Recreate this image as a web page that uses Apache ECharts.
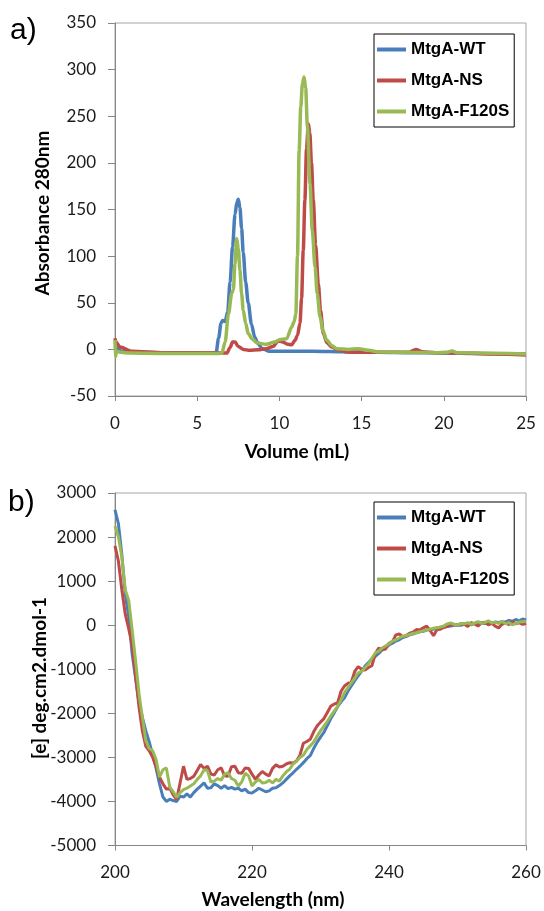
<!DOCTYPE html>
<html>
<head>
<meta charset="utf-8">
<script src="https://cdn.jsdelivr.net/npm/echarts@6.0.0/dist/echarts.min.js"></script>
<style>
  html, body { margin: 0; padding: 0; background: #fff; }
  #main { width: 544px; height: 911px; }
</style>
</head>
<body>
<div id="main"></div>
<script>
var names = ['MtgA-WT', 'MtgA-NS', 'MtgA-F120S'];
var colors = ['#4a7ebb', '#be4b48', '#98b954'];

// a) elution profiles, volume (mL) vs absorbance 280nm
var wtVol = [0, 0.1, 0.4, 1, 3, 5, 6.0, 6.15, 6.3, 6.45, 6.55, 6.7, 6.85, 7.0, 7.15, 7.3, 7.42, 7.5, 7.6, 7.7, 7.8, 7.95, 8.1, 8.3, 8.5, 8.7, 8.95, 9.4, 10, 12, 14, 16, 18, 20, 22, 25];
var wtAbs = [4, 1, -2, -3, -3.5, -4, -4, -3.5, 12, 28, 31, 30, 40, 72, 110, 145, 158, 161, 152, 130, 104, 72, 50, 27, 13, 6, 1, -2, -2, -2, -2.5, -3, -3.5, -4, -4.5, -5];

var nsVol = [0, 0.05, 0.3, 1, 3, 6.8, 7.0, 7.15, 7.3, 7.5, 7.8, 8.2, 8.7, 9.2, 9.6, 9.93, 10.2, 10.5, 10.75, 10.95, 11.1, 11.25, 11.35, 11.45, 11.55, 11.65, 11.76, 11.85, 11.95, 12.06, 12.2, 12.37, 12.5, 12.67, 12.9, 13.18, 13.6, 14.1, 15, 16, 17, 17.9, 18.3, 18.7, 19.5, 21, 23, 25];
var nsAbs = [12, 8, 2.5, -2, -3.5, -4, 2, 8, 8, 3, 0, -1, -0.5, 0.7, 3, 9, 8, 5.5, 5, 9.7, 15, 28, 55, 106, 160, 215, 242, 232, 200, 160, 112, 70, 42, 17, 7, 2.5, -0.5, -2.9, -3, -3, -3.2, -3, 0, -2.5, -3.5, -4, -5, -6];

var fsVol = [0, 0.03, 0.08, 0.3, 1, 3, 6.3, 6.5, 6.7, 6.9, 7.1, 7.2, 7.3, 7.4, 7.5, 7.6, 7.7, 7.8, 7.95, 8.1, 8.35, 8.62, 9.2, 9.73, 10.0, 10.44, 10.75, 10.9, 11.0, 11.1, 11.2, 11.3, 11.4, 11.5, 11.6, 11.7, 11.86, 12.0, 12.17, 12.3, 12.47, 12.65, 12.88, 13.2, 13.5, 14.2, 14.8, 15.4, 16.1, 18, 19.5, 20.2, 20.5, 20.8, 22, 25];
var fsAbs = [10, -8, -2, -3, -4, -4.5, -4.5, -4, 8, 38, 60, 64, 92, 119, 108, 85, 60, 42, 28, 17, 11, 7, 5.4, 7.9, 10.4, 11.5, 24, 30, 38, 100, 213, 260, 285, 292, 280, 240, 178, 128, 88, 60, 35, 20, 9.7, 4, 0.7, 0, 0.7, -1, -2.9, -3, -3.5, -3, -1.8, -3.5, -4, -5];

// b) CD spectra, 200-260 nm every 0.5 nm
var wlStart = 200, wlStep = 0.5;
var wtCd = [
  2620, 2300, 1600, 700, 200, -650, -1200, -1750, -2100, -2400,
  -2650, -2950, -3250, -3600, -3900, -4000, -3950, -3980, -4000, -3880,
  -3900, -3830, -3900, -3800, -3720, -3650, -3580, -3700, -3690, -3600,
  -3640, -3700, -3640, -3710, -3680, -3720, -3700, -3760, -3720, -3800,
  -3810, -3760, -3700, -3740, -3780, -3760, -3700, -3690, -3640, -3580,
  -3500, -3420, -3350, -3270, -3200, -3120, -3030, -2960, -2800, -2660,
  -2540, -2430, -2280, -2120, -1990, -1850, -1740, -1650, -1500, -1380,
  -1260, -1150, -1040, -930, -850, -770, -710, -640, -560, -510,
  -450, -410, -360, -330, -280, -260, -220, -200, -170, -150,
  -140, -110, -100, -90, -60, -50, -40, -30, -20, 0,
  10, 0, 20, 30, 10, 40, 30, 50, 40, 60,
  50, 70, 60, 80, 70, 110, 90, 130, 100, 140,
  120
];
var nsCd = [
  1800, 1450, 800, 250, -80, -450, -1150, -1850, -2400, -2750,
  -2850, -3000, -3200, -3450, -3600, -3720, -3700, -3850, -3960, -3580,
  -3200, -3500, -3480, -3430, -3300, -3160, -3250, -3200, -3380, -3400,
  -3280, -3240, -3420, -3430, -3210, -3200, -3350, -3360, -3240, -3250,
  -3380, -3500, -3400, -3320, -3380, -3420, -3250, -3170, -3220, -3200,
  -3150, -3120, -3130, -3080, -2950, -2680, -2640, -2590, -2420, -2290,
  -2200, -2120, -1980, -1840, -1790, -1760, -1500, -1380, -1320, -1290,
  -1050, -940, -1000, -1020, -960, -920, -650, -520, -560, -540,
  -410, -380, -220, -200, -260, -240, -180, -160, -100, -110,
  -60, -20, -120, -240, -100, -90, -50, -30, 10, 20,
  -10, 40, 20, -30, 60, 30, -20, 50, 70, 10,
  40, -20, -60, 20, 60, 10, 90, 30, 60, 20,
  40
];
var fsCd = [
  2250, 2000, 1550, 800, 560, -100, -800, -1550, -2100, -2620,
  -2800, -2850, -3050, -3450, -3280, -3240, -3680, -3780, -3910, -3800,
  -3730, -3700, -3650, -3600, -3500, -3420, -3280, -3300, -3560, -3540,
  -3480, -3520, -3380, -3350, -3480, -3520, -3650, -3560, -3360, -3420,
  -3650, -3560, -3500, -3580, -3570, -3520, -3580, -3500, -3540, -3420,
  -3330, -3270, -3150, -3090, -3000, -2950, -2820, -2740, -2650, -2520,
  -2400, -2290, -2180, -2060, -1950, -1840, -1700, -1530, -1420, -1310,
  -1200, -1080, -1050, -960, -880, -750, -630, -590, -520, -470,
  -420, -360, -330, -290, -250, -240, -210, -190, -170, -150,
  -130, -110, -90, -70, -60, -40, -20, 30, 50, 20,
  0, 40, 30, 60, 20, 50, 80, 40, 60, 100,
  50, 70, 40, 90, 30, 60, 10, 40, 70, 80,
  90
];

function zip(xs, ys) {
  return xs.map(function (x, i) { return [x, ys[i]]; });
}
function spectrum(ys) {
  return ys.map(function (y, i) { return [wlStart + i * wlStep, y]; });
}

var labelFont = { fontFamily: 'Lato', fontSize: 17, color: '#1a1a1a' };
var titleFont = 'bold 19px Lato';
var axisGray = '#868686';

function xAx(idx, min, max, step) {
  return {
    gridIndex: idx, type: 'value', min: min, max: max, interval: step,
    axisLine: { onZero: false, lineStyle: { color: axisGray } },
    axisTick: { inside: false, length: 5, lineStyle: { color: axisGray } },
    axisLabel: Object.assign({ margin: 19, formatter: function (v) { return String(v); } }, labelFont),
    splitLine: { show: false }
  };
}
function yAx(idx, min, max, step) {
  return {
    gridIndex: idx, type: 'value', min: min, max: max, interval: step,
    axisLine: { show: true, lineStyle: { color: axisGray } },
    axisTick: { show: true, length: 7, lineStyle: { color: axisGray } },
    axisLabel: Object.assign({ margin: 19, formatter: function (v) { return String(v); } }, labelFont),
    splitLine: { show: false }
  };
}
function legendAt(top) {
  return {
    orient: 'vertical', left: 374, top: top,
    padding: [7, 5, 7, 3],
    icon: 'rect',
    itemWidth: 29, itemHeight: 4, itemGap: 14,
    borderColor: '#000', borderWidth: 1,
    textStyle: { fontFamily: 'Liberation Sans', fontWeight: 'bold', fontSize: 17, color: '#000', lineHeight: 17, height: 17 },
    data: names
  };
}

var series = [];
[[wtVol, wtAbs], [nsVol, nsAbs], [fsVol, fsAbs]].forEach(function (p, i) {
  series.push({
    name: names[i], type: 'line', xAxisIndex: 0, yAxisIndex: 0,
    symbol: 'none', smooth: 0.3, smoothMonotone: 'x',
    lineStyle: { width: 3.5, color: colors[i] }, itemStyle: { color: colors[i] },
    data: zip(p[0], p[1])
  });
});
[wtCd, nsCd, fsCd].forEach(function (ys, i) {
  series.push({
    name: names[i], type: 'line', xAxisIndex: 1, yAxisIndex: 1,
    symbol: 'none',
    lineStyle: { width: 3, color: colors[i] }, itemStyle: { color: colors[i] },
    data: spectrum(ys)
  });
});

var myChart = echarts.init(document.getElementById('main'));
myChart.setOption({
  animation: false,
  backgroundColor: '#fff',
  grid: [
    { left: 115, top: 23, right: 18, height: 373, show: true, borderColor: '#a6a6a6', borderWidth: 1 },
    { left: 115, top: 493, right: 18, height: 352.5, show: true, borderColor: '#a6a6a6', borderWidth: 1 }
  ],
  xAxis: [xAx(0, 0, 25, 5), xAx(1, 200, 260, 20)],
  yAxis: [yAx(0, -50, 350, 50), yAx(1, -5000, 3000, 1000)],
  legend: [legendAt(34), legendAt(502)],
  graphic: [
    { type: 'text', left: 10, top: 16, style: { text: 'a)', font: '30px "Liberation Sans"', fill: '#000' } },
    { type: 'text', left: 8, top: 488, style: { text: 'b)', font: '30px "Liberation Sans"', fill: '#000' } },
    { type: 'text', x: 297, y: 452, style: { text: 'Volume (mL)', font: titleFont, fill: '#000', align: 'center', verticalAlign: 'middle' } },
    { type: 'text', x: 273, y: 900, style: { text: 'Wavelength (nm)', font: titleFont, fill: '#000', align: 'center', verticalAlign: 'middle' } },
    { type: 'text', x: 43, y: 213, rotation: Math.PI / 2, style: { text: 'Absorbance 280nm', font: titleFont, fill: '#000', align: 'center', verticalAlign: 'middle' } },
    { type: 'text', x: 40, y: 678, rotation: Math.PI / 2, style: { text: '[e] deg.cm2.dmol-1', font: titleFont, fill: '#000', align: 'center', verticalAlign: 'middle' } }
  ],
  series: series
});
</script>
</body>
</html>
